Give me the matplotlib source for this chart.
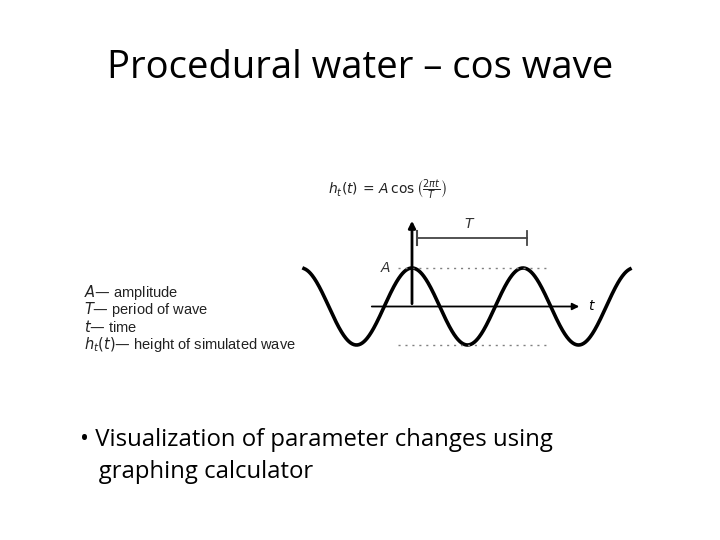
import numpy as np
import matplotlib.pyplot as plt

title = "Procedural water – cos wave"
bullet_lines = ["• Visualization of parameter changes using", "   graphing calculator"]
legend_lines = [r"$A$— amplitude", r"$T$— period of wave", r"$t$— time", r"$h_t(t)$— height of simulated wave"]
amplitude_px = 38.5
period_px = 111.0
peak_x = 412.0
axis_y = 306.5

fig = plt.figure(figsize=(7.2, 5.4), dpi=100)
ax = fig.add_axes([0, 0, 1, 1])
ax.set_xlim(0, 720); ax.set_ylim(540, 0); ax.axis('off')

fig.text(0.5, 1 - 68/540, title, ha='center', va='center', fontsize=27.5, family='Open Sans')
fig.text(80/720, 1 - 440/540, bullet_lines[0], ha='left', va='center', fontsize=17.2, family='Open Sans')
fig.text(80/720, 1 - 472/540, bullet_lines[1], ha='left', va='center', fontsize=17.2, family='Open Sans')

x = np.linspace(304, 630, 600)
y = axis_y - amplitude_px * np.cos(2 * np.pi * (x - peak_x) / period_px)
ax.plot(x, y, color='black', lw=2.6)
# axes
ax.annotate('', xy=(582, axis_y), xytext=(369, axis_y),
            arrowprops=dict(arrowstyle='-|>', color='black', lw=1.3, mutation_scale=10))
ax.annotate('', xy=(peak_x, 218), xytext=(peak_x, axis_y),
            arrowprops=dict(arrowstyle='-|>', color='black', lw=2, mutation_scale=10))
ax.text(588, axis_y, r'$t$', fontsize=10, va='center')
# dotted
ax.plot([398, 550], [axis_y - amplitude_px]*2, ls=(0, (1.5, 3.5)), color='gray', lw=1)
ax.plot([398, 550], [axis_y + amplitude_px]*2, ls=(0, (1.5, 3.5)), color='gray', lw=1)
ax.text(386, 268, r'$A$', fontsize=10, va='center', ha='center', color='#333')
# T bar
ax.plot([417, 527], [238, 238], color='#444', lw=1.3)
ax.plot([417, 417], [231, 245], color='#444', lw=1.5)
ax.plot([527, 527], [231, 245], color='#444', lw=1.3)
ax.text(470, 224, r'$T$', fontsize=10, va='center', ha='center', color='#333')
# formula
ax.text(328, 190, r'$h_t(t)\,=\,A\,\cos\left(\frac{2\pi t}{T}\right)$', fontsize=10, va='center', ha='left', color='#222')
# legend
for i, s in enumerate(legend_lines):
    ax.text(84, 292 + i*17.5, s, fontsize=10.5, va='center', ha='left', color='#222', family='Liberation Sans')
fig.savefig('out.png')
